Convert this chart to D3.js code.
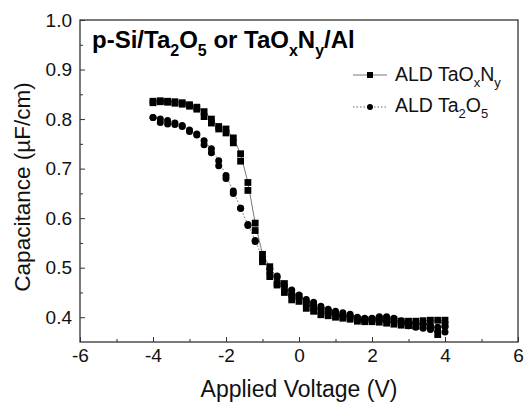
<!DOCTYPE html>
<html>
<head>
<meta charset="utf-8">
<style>
  body { margin: 0; background: #fff; }
  svg { display: block; font-family: "Liberation Sans", Arial, sans-serif; }
</style>
</head>
<body>
<svg id="chart"></svg>
<script src="https://cdn.jsdelivr.net/npm/d3@7"></script>
<script>

  const width = 526, height = 405
  const margin = {left: 80, top: 20, right: 8, bottom: 63}

  // applied voltage (V)
  const voltage = [-4, -3.8, -3.6, -3.4, -3.2, -3, -2.8, -2.6, -2.4, -2.2, -2, -1.8, -1.6, -1.4, -1.2, -1, -0.8, -0.6, -0.4, -0.2,
                   0, 0.2, 0.4, 0.6, 0.8, 1, 1.2, 1.4, 1.6, 1.8, 2, 2.2, 2.4, 2.6, 2.8, 3, 3.2, 3.4, 3.6, 3.8, 4]

  // ALD TaOxNy, two sweeps
  const taonUp = [0.836, 0.837, 0.836, 0.835, 0.833, 0.829, 0.824, 0.815, 0.800, 0.785, 0.780, 0.762, 0.730, 0.672, 0.590, 0.527, 0.502, 0.468, 0.468, 0.447,
                  0.442, 0.427, 0.420, 0.412, 0.410, 0.406, 0.402, 0.400, 0.396, 0.395, 0.395, 0.397, 0.397, 0.395, 0.392, 0.392, 0.392, 0.393, 0.394, 0.394, 0.394]
  const taonDown = [0.833, 0.835, 0.834, 0.832, 0.830, 0.826, 0.820, 0.805, 0.792, 0.780, 0.772, 0.752, 0.715, 0.656, 0.575, 0.512, 0.482, 0.465, 0.450, 0.435,
                    0.432, 0.418, 0.412, 0.405, 0.403, 0.400, 0.398, 0.396, 0.392, 0.391, 0.391, 0.390, 0.388, 0.386, 0.384, 0.383, 0.382, 0.382, 0.380, 0.365, 0.385]

  // ALD Ta2O5, two sweeps
  const ta2o5Up = [0.803, 0.800, 0.797, 0.792, 0.787, 0.778, 0.770, 0.756, 0.740, 0.716, 0.686, 0.655, 0.620, 0.587, 0.555, 0.520, 0.497, 0.483, 0.463, 0.455,
                   0.445, 0.436, 0.430, 0.422, 0.416, 0.412, 0.409, 0.406, 0.400, 0.398, 0.398, 0.401, 0.401, 0.398, 0.393, 0.390, 0.388, 0.386, 0.383, 0.380, 0.381]
  const ta2o5Down = [0.803, 0.793, 0.790, 0.789, 0.785, 0.775, 0.768, 0.748, 0.732, 0.706, 0.680, 0.650, 0.620, 0.585, 0.553, 0.515, 0.490, 0.480, 0.455, 0.445,
                     0.440, 0.430, 0.425, 0.418, 0.411, 0.408, 0.404, 0.402, 0.397, 0.395, 0.394, 0.394, 0.393, 0.391, 0.386, 0.383, 0.380, 0.378, 0.375, 0.372, 0.370]

  const xTicks = [-6, -4, -2, 0, 2, 4, 6]
  const xMinor = [-5, -3, -1, 1, 3, 5]
  const yTicks = [0.4, 0.5, 0.6, 0.7, 0.8, 0.9, 1.0]
  const yMinor = [0.45, 0.55, 0.65, 0.75, 0.85, 0.95]

  const w = width - margin.left - margin.right,
        h = height - margin.top - margin.bottom

  const x = d3.scaleLinear().domain([-6, 6]).range([0, w])
  const y = d3.scaleLinear().domain([0.35, 1.0]).range([h, 0])

  const svg = d3.select("#chart")
      .attr("width", width)
      .attr("height", height)

  const g = svg.append("g")
      .attr("transform", `translate(${margin.left}, ${margin.top})`)

  // frame
  g.append("rect")
    .attr("width", w).attr("height", h)
    .attr("fill", "none").attr("stroke", "#333").attr("stroke-width", 1.3)

  // ticks (inward)
  const gx = g.append("g").attr("transform", `translate(0, ${h})`)
    .call(d3.axisBottom(x).tickValues(xTicks).tickSizeInner(-5).tickSizeOuter(0).tickPadding(7)
      .tickFormat(d => d < 0 ? "-" + Math.abs(d) : d))
  g.append("g").attr("transform", `translate(0, ${h})`)
    .call(d3.axisBottom(x).tickValues(xMinor).tickSizeInner(-3).tickSizeOuter(0).tickFormat(""))

  const gy = g.append("g")
    .call(d3.axisLeft(y).tickValues(yTicks).tickSizeInner(-5).tickSizeOuter(0).tickPadding(8).tickFormat(d3.format(".1f")))
  g.append("g")
    .call(d3.axisLeft(y).tickValues(yMinor).tickSizeInner(-3).tickSizeOuter(0).tickFormat(""))

  g.selectAll(".domain").remove()
  g.selectAll(".tick line").attr("stroke", "#333")
  g.selectAll(".tick text")
    .attr("fill", "#111")
    .style("font-size", "19px")
    .style("font-family", "Liberation Sans, Arial, sans-serif")

  // axis titles
  g.append("text")
    .attr("x", w / 2).attr("y", h + 55)
    .attr("text-anchor", "middle")
    .style("font-size", "23px")
    .attr("fill", "#111")
    .text("Applied Voltage (V)")

  g.append("text")
    .attr("transform", `translate(${-50}, ${167}) rotate(-90)`)
    .attr("text-anchor", "middle")
    .style("font-size", "22.5px")
    .attr("fill", "#111")
    .text("Capacitance (\u00b5F/cm)")

  // series
  const line = d3.line().x(d => x(d[0])).y(d => y(d[1]))
  const pairs = (vals) => voltage.map((v, i) => [v, vals[i]])

  g.append("path").datum(pairs(ta2o5Up))
    .attr("d", line).attr("fill", "none")
    .attr("stroke", "#444").attr("stroke-width", 0.8).attr("stroke-dasharray", "1.5,2")
  g.append("path").datum(pairs(taonUp))
    .attr("d", line).attr("fill", "none")
    .attr("stroke", "#555").attr("stroke-width", 0.8)

  const sq = 6.8
  ;[taonUp, taonDown].forEach(vals => {
    g.append("g").selectAll("rect")
      .data(pairs(vals))
      .enter().append("rect")
        .attr("x", d => x(d[0]) - sq / 2)
        .attr("y", d => y(d[1]) - sq / 2)
        .attr("width", sq).attr("height", sq)
        .attr("fill", "#000")
  })

  ;[ta2o5Up, ta2o5Down].forEach(vals => {
    g.append("g").selectAll("circle")
      .data(pairs(vals))
      .enter().append("circle")
        .attr("cx", d => x(d[0]))
        .attr("cy", d => y(d[1]))
        .attr("r", 3.5)
        .attr("fill", "#000")
  })

  // title
  const title = svg.append("text")
    .attr("x", 92).attr("y", 48)
    .style("font-size", "24px").style("font-weight", "bold")
    .attr("fill", "#000")
  title.append("tspan").text("p-Si/Ta")
  title.append("tspan").attr("dy", 8).style("font-size", "16px").text("2")
  title.append("tspan").attr("dy", -8).text("O")
  title.append("tspan").attr("dy", 8).style("font-size", "16px").text("5")
  title.append("tspan").attr("dy", -8).text(" or TaO")
  title.append("tspan").attr("dy", 8).style("font-size", "16px").text("x")
  title.append("tspan").attr("dy", -8).text("N")
  title.append("tspan").attr("dy", 8).style("font-size", "16px").text("y")
  title.append("tspan").attr("dy", -8).text("/Al")

  // legend
  const legend = svg.append("g").attr("transform", "translate(353, 0)")
  legend.append("line").attr("x1", 0).attr("x2", 34).attr("y1", 75).attr("y2", 75)
    .attr("stroke", "#555").attr("stroke-width", 0.8)
  legend.append("rect").attr("x", 17 - 3).attr("y", 72).attr("width", 6).attr("height", 6).attr("fill", "#000")
  legend.append("line").attr("x1", 0).attr("x2", 34).attr("y1", 107).attr("y2", 107)
    .attr("stroke", "#444").attr("stroke-width", 0.8).attr("stroke-dasharray", "1.5,2")
  legend.append("circle").attr("cx", 17).attr("cy", 107).attr("r", 3).attr("fill", "#000")

  const l1 = legend.append("text").attr("x", 42).attr("y", 81)
    .style("font-size", "19.5px").attr("fill", "#111")
  l1.append("tspan").text("ALD TaO")
  l1.append("tspan").attr("dy", 6).style("font-size", "13px").text("x")
  l1.append("tspan").attr("dy", -6).text("N")
  l1.append("tspan").attr("dy", 6).style("font-size", "13px").text("y")

  const l2 = legend.append("text").attr("x", 42).attr("y", 112)
    .style("font-size", "19.5px").attr("fill", "#111")
  l2.append("tspan").text("ALD Ta")
  l2.append("tspan").attr("dy", 6).style("font-size", "13px").text("2")
  l2.append("tspan").attr("dy", -6).text("O")
  l2.append("tspan").attr("dy", 6).style("font-size", "13px").text("5")

</script>
</body>
</html>
